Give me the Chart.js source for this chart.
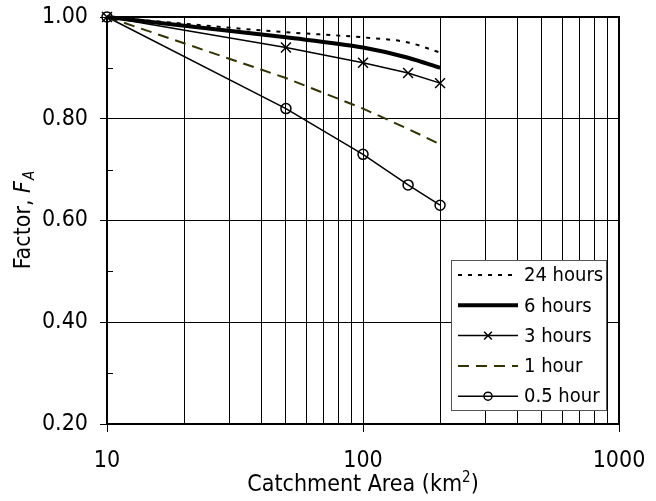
<!DOCTYPE html>
<html>
<head>
<meta charset="utf-8">
<script src="https://cdn.jsdelivr.net/npm/chart.js@4.4.0/dist/chart.umd.min.js"></script>
<style>
  body { margin: 0; background: #fff; }
</style>
</head>
<body>
<canvas id="areaChart" width="656" height="501"></canvas>
<script>
// catchment areas (km2) where the factor curves are read
const areas = [10, 50, 100, 150, 200];
const hours24 = [1.00, 0.97, 0.96, 0.95, 0.93];
const hours6 = [1.00, 0.96, 0.94, 0.92, 0.90];
const hours3 = [1.00, 0.94, 0.91, 0.89, 0.87];
const hour1 = [1.00, 0.88, 0.82, 0.78, 0.75];
const hour05 = [1.00, 0.82, 0.73, 0.67, 0.63];
const seriesNames = ["24 hours", "6 hours", "3 hours", "1 hour", "0.5 hour"];
const xTickLabels = [10, 100, 1000];
const yTickLabels = [0.2, 0.4, 0.6, 0.8, 1.0];

const FONT = "'DejaVu Sans Condensed', 'DejaVu Sans', sans-serif";

function toPoints(values) {
    return areas.map(function (a, i) { return { x: a, y: values[i] }; });
}

// log grid lines at 10, 20, ... 90, 100, 200 ... 1000
function logGrid() {
    const vals = [];
    for (let d = xTickLabels[0]; d < xTickLabels[xTickLabels.length - 1]; d *= 10) {
        for (let k = 1; k < 10; k++) vals.push(k * d);
    }
    vals.push(xTickLabels[xTickLabels.length - 1]);
    return vals;
}

function isMajorY(v) {
    return yTickLabels.some(function (t) { return Math.abs(t - v) < 1e-6; });
}

const extrasPlugin = {
    id: 'extras',
    afterDatasetsDraw(chart) {
        const ctx = chart.ctx;
        const area = chart.chartArea;
        const yScale = chart.scales.y;

        // minor inward ticks on the y axis
        ctx.save();
        ctx.strokeStyle = '#000';
        ctx.lineWidth = 1;
        yScale.ticks.forEach(function (t) {
            if (!isMajorY(t.value)) {
                const py = Math.round(yScale.getPixelForValue(t.value)) + 0.5;
                ctx.beginPath();
                ctx.moveTo(area.left, py);
                ctx.lineTo(area.left + 6, py);
                ctx.stroke();
            }
        });

        // frame
        ctx.lineWidth = 2;
        ctx.strokeRect(area.left, area.top, area.right - area.left, area.bottom - area.top);
        ctx.restore();

        // legend box
        const boxW = 155, boxH = 150;
        const bx = area.right - 13 - boxW;
        const by = area.bottom - 14 - boxH;
        ctx.save();
        ctx.fillStyle = '#fff';
        ctx.fillRect(bx, by, boxW, boxH);
        ctx.strokeStyle = '#555';
        ctx.lineWidth = 1;
        ctx.strokeRect(bx + 0.5, by + 0.5, boxW, boxH);

        chart.data.datasets.forEach(function (ds, i) {
            const cy = by + 15 + i * 30.3;
            const x0 = bx + 7, x1 = bx + 67;
            ctx.save();
            ctx.strokeStyle = ds.borderColor;
            ctx.lineWidth = ds.borderWidth;
            ctx.setLineDash(ds.borderDash || []);
            ctx.beginPath();
            ctx.moveTo(x0, cy);
            ctx.lineTo(x1, cy);
            ctx.stroke();
            ctx.setLineDash([]);
            if (ds.pointRadius > 0) {
                ctx.strokeStyle = ds.pointBorderColor;
                ctx.fillStyle = ds.pointBackgroundColor;
                ctx.lineWidth = ds.pointBorderWidth;
                Chart.helpers.drawPoint(ctx, {
                    pointStyle: ds.pointStyle,
                    radius: ds.pointStyle === 'circle' ? 4 : 5.5,
                    borderWidth: ds.pointBorderWidth,
                    rotation: 0
                }, (x0 + x1) / 2, cy);
            }
            ctx.restore();
            ctx.fillStyle = '#000';
            ctx.font = '20px ' + FONT;
            ctx.textAlign = 'left';
            ctx.textBaseline = 'middle';
            ctx.fillText(ds.label, x1 + 6, cy + 1);
        });
        ctx.restore();
    },
    afterDraw(chart) {
        const ctx = chart.ctx;
        const area = chart.chartArea;
        ctx.save();
        ctx.fillStyle = '#000';
        ctx.textBaseline = 'alphabetic';

        // x axis title with superscript
        const big = '23px ' + FONT, small = '15px ' + FONT;
        const p1 = 'Catchment Area (km', p2 = '2', p3 = ')';
        ctx.font = big;
        const w1 = ctx.measureText(p1).width, w3 = ctx.measureText(p3).width;
        ctx.font = small;
        const w2 = ctx.measureText(p2).width;
        let tx = (area.left + area.right) / 2 - (w1 + w2 + w3) / 2;
        const ty = 491;
        ctx.font = big;
        ctx.textAlign = 'left';
        ctx.fillText(p1, tx, ty);
        ctx.font = small;
        ctx.fillText(p2, tx + w1, ty - 9);
        ctx.font = big;
        ctx.fillText(p3, tx + w1 + w2, ty);

        // y axis title: Factor, F_A
        const q1 = 'Factor, ', q2 = 'F', q3 = 'A';
        ctx.font = big;
        const v1 = ctx.measureText(q1).width;
        ctx.font = 'italic ' + big;
        const v2 = ctx.measureText(q2).width;
        ctx.font = 'italic ' + small;
        const v3 = ctx.measureText(q3).width;
        ctx.translate(30, (area.top + area.bottom) / 2);
        ctx.rotate(-Math.PI / 2);
        let sx = -(v1 + v2 + v3) / 2;
        ctx.font = big;
        ctx.fillText(q1, sx, 0);
        ctx.font = 'italic ' + big;
        ctx.fillText(q2, sx + v1, 0);
        ctx.font = 'italic ' + small;
        ctx.fillText(q3, sx + v1 + v2 + 1, 4);
        ctx.restore();
    }
};

const ctx = document.getElementById('areaChart');

new Chart(ctx, {
    type: 'line',
    data: {
        datasets: [
            {
                label: seriesNames[0],
                data: toPoints(hours24),
                borderColor: '#000',
                borderWidth: 2,
                borderDash: [4, 6],
                pointRadius: 0,
                cubicInterpolationMode: 'monotone',
                clip: false
            },
            {
                label: seriesNames[1],
                data: toPoints(hours6),
                borderColor: '#000',
                borderWidth: 4,
                pointRadius: 0,
                cubicInterpolationMode: 'monotone',
                clip: false
            },
            {
                label: seriesNames[2],
                data: toPoints(hours3),
                borderColor: '#000',
                borderWidth: 1.5,
                pointStyle: 'crossRot',
                pointRadius: 7,
                pointBorderWidth: 1.5,
                pointBorderColor: '#000',
                pointBackgroundColor: '#000',
                clip: false
            },
            {
                label: seriesNames[3],
                data: toPoints(hour1),
                borderColor: '#333300',
                borderWidth: 2,
                borderDash: [11, 7],
                pointRadius: 0,
                clip: false
            },
            {
                label: seriesNames[4],
                data: toPoints(hour05),
                borderColor: '#000',
                borderWidth: 1.5,
                pointStyle: 'circle',
                pointRadius: 5,
                pointBorderWidth: 1.5,
                pointBorderColor: '#000',
                pointBackgroundColor: 'rgba(0,0,0,0)',
                clip: false
            }
        ]
    },
    options: {
        responsive: false,
        animation: false,
        devicePixelRatio: 1,
        layout: { padding: { top: 17, right: 37, left: 0, bottom: 0 } },
        plugins: {
            legend: { display: false },
            tooltip: { enabled: false }
        },
        scales: {
            x: {
                type: 'logarithmic',
                min: 10,
                max: 1000,
                afterBuildTicks: function (scale) {
                    scale.ticks = logGrid().map(function (v) { return { value: v }; });
                },
                afterFit: function (scale) {
                    scale.height = 77;
                    scale.paddingLeft = 0;
                    scale.paddingRight = 0;
                },
                ticks: {
                    autoSkip: false,
                    maxRotation: 0,
                    color: '#000',
                    font: { family: FONT, size: 23 },
                    padding: 15,
                    callback: function (value) {
                        return xTickLabels.includes(value) ? String(value) : '';
                    }
                },
                grid: {
                    color: '#000',
                    lineWidth: 1,
                    tickLength: 8,
                    tickColor: function (c) {
                        return c.tick && xTickLabels.includes(c.tick.value) ? '#000' : 'rgba(0,0,0,0)';
                    }
                },
                border: { color: '#000', width: 2 }
            },
            y: {
                min: 0.2,
                max: 1.0,
                afterFit: function (scale) {
                    scale.width = 107;
                    scale.paddingTop = 0;
                    scale.paddingBottom = 0;
                },
                ticks: {
                    stepSize: 0.1,
                    color: '#000',
                    font: { family: FONT, size: 23 },
                    padding: 12,
                    callback: function (value) {
                        return isMajorY(value) ? value.toFixed(2) : '';
                    }
                },
                grid: {
                    lineWidth: 1,
                    tickLength: 7,
                    color: function (c) {
                        return c.tick && isMajorY(c.tick.value) ? '#000' : 'rgba(0,0,0,0)';
                    },
                    tickColor: function (c) {
                        return c.tick && isMajorY(c.tick.value) ? '#000' : 'rgba(0,0,0,0)';
                    }
                },
                border: { color: '#000', width: 2 }
            }
        }
    },
    plugins: [extrasPlugin]
});
</script>
</body>
</html>
